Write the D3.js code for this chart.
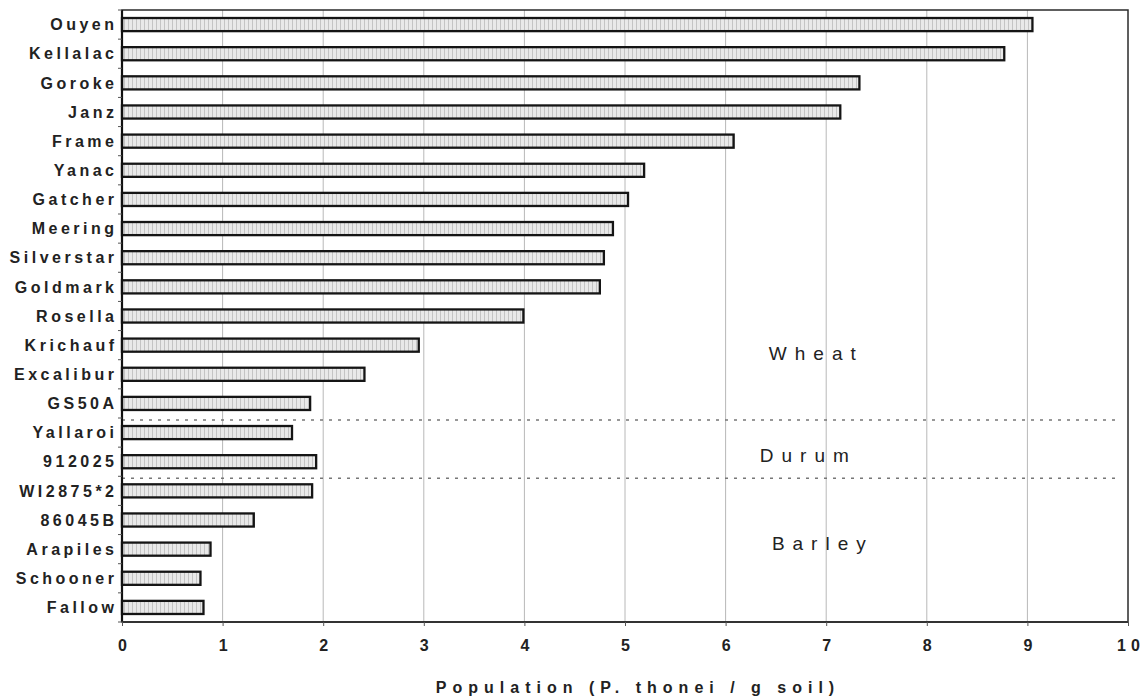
<!DOCTYPE html>
<html>
<head>
<meta charset="utf-8">
<script src="https://cdn.jsdelivr.net/npm/d3@7"></script>
<style>
  body { margin: 0; background: #fff; }
  svg text { font-family: "Liberation Sans", Arial, sans-serif; fill: #222; }
</style>
</head>
<body>
<div id="chart"></div>
<script>
// cultivars, top to bottom
const cultivars = ["Ouyen", "Kellalac", "Goroke", "Janz", "Frame", "Yanac", "Gatcher", "Meering",
  "Silverstar", "Goldmark", "Rosella", "Krichauf", "Excalibur", "GS50A", "Yallaroi", "912025",
  "WI2875*2", "86045B", "Arapiles", "Schooner", "Fallow"];
const population = [9.05, 8.77, 7.33, 7.14, 6.08, 5.19, 5.03, 4.88,
  4.79, 4.75, 3.99, 2.95, 2.41, 1.87, 1.69, 1.93,
  1.89, 1.31, 0.88, 0.78, 0.81];
const xTicks = [0, 1, 2, 3, 4, 5, 6, 7, 8, 9, 10];
const groupNames = ["Wheat", "Durum", "Barley"];
const groupEnds = ["GS50A", "912025"]; // last cultivar of each group (dotted line below)
const xTitle = "Population (P. thonei / g soil)";

const W = 1147, H = 697;
const m = { top: 10, right: 19, bottom: 75, left: 122 };

const svg = d3.select("#chart").append("svg")
  .attr("width", W).attr("height", H);

const x = d3.scaleLinear().domain([0, 10]).range([m.left, W - m.right]);
const y = d3.scaleBand().domain(cultivars).range([m.top, H - m.bottom]).padding(0);
const barH = y.bandwidth() * 0.45;

// hatch for the bar fill
const pat = svg.append("defs").append("pattern")
  .attr("id", "hatch").attr("patternUnits", "userSpaceOnUse")
  .attr("width", 4).attr("height", 4);
pat.append("rect").attr("width", 4).attr("height", 4).attr("fill", "#e9e9e9");
pat.append("line").attr("x1", 0.5).attr("x2", 0.5).attr("y1", 0).attr("y2", 4)
  .attr("stroke", "#c4c4c4").attr("stroke-width", 1);

// vertical gridlines
svg.append("g").selectAll("line")
  .data(xTicks.slice(1, -1)).enter().append("line")
  .attr("x1", d => x(d)).attr("x2", d => x(d))
  .attr("y1", m.top).attr("y2", H - m.bottom)
  .attr("stroke", "#b8b8b8").attr("stroke-width", 1);

// dotted group separators
svg.append("g").selectAll("line")
  .data(groupEnds).enter().append("line")
  .attr("x1", x(0)).attr("x2", x(10) - 10)
  .attr("y1", d => y(d) + y.step() + 2).attr("y2", d => y(d) + y.step() + 2)
  .attr("stroke", "#777").attr("stroke-width", 1.5)
  .attr("stroke-dasharray", "3,6");

// bars
svg.append("g").selectAll("rect")
  .data(cultivars).enter().append("rect")
  .attr("x", x(0))
  .attr("y", d => y(d) + (y.bandwidth() - barH) / 2)
  .attr("width", (d, i) => x(population[i]) - x(0))
  .attr("height", barH)
  .attr("fill", "url(#hatch)")
  .attr("stroke", "#151515").attr("stroke-width", 2.3);

// frame
svg.append("rect")
  .attr("x", x(0)).attr("y", m.top)
  .attr("width", x(10) - x(0)).attr("height", H - m.bottom - m.top)
  .attr("fill", "none").attr("stroke", "#2a2a2a").attr("stroke-width", 1.5);
svg.append("line")
  .attr("x1", x(0)).attr("x2", x(0)).attr("y1", m.top).attr("y2", H - m.bottom)
  .attr("stroke", "#111").attr("stroke-width", 2.2);
svg.append("line")
  .attr("x1", x(0)).attr("x2", x(10)).attr("y1", H - m.bottom).attr("y2", H - m.bottom)
  .attr("stroke", "#333").attr("stroke-width", 2);

// y ticks between categories
const yEdges = cultivars.map(c => y(c)).concat([H - m.bottom]);
svg.append("g").selectAll("line")
  .data(yEdges).enter().append("line")
  .attr("x1", x(0) - 4).attr("x2", x(0))
  .attr("y1", d => d).attr("y2", d => d)
  .attr("stroke", "#555").attr("stroke-width", 1);

// x axis ticks and labels
const xAxis = svg.append("g")
  .attr("transform", `translate(0,${H - m.bottom})`)
  .call(d3.axisBottom(x).tickValues(xTicks).tickSize(4).tickPadding(14).tickFormat(d3.format("d")));
xAxis.select(".domain").remove();
xAxis.selectAll(".tick line").attr("stroke", "#555");
xAxis.selectAll(".tick text")
  .style("font-size", "16px").style("font-weight", "bold")
  .style("font-family", "'Liberation Sans', Arial, sans-serif")
  .style("letter-spacing", "5px").attr("dx", "2.5px").attr("fill", "#222");

// category labels
const ls = 3.5;
svg.append("g").selectAll("text")
  .data(cultivars).enter().append("text")
  .attr("x", x(0) - 8 + ls)
  .attr("y", d => y(d) + y.bandwidth() / 2)
  .attr("dy", "0.36em")
  .attr("text-anchor", "end")
  .style("font-size", "16px").style("font-weight", "bold")
  .style("letter-spacing", ls + "px")
  .text(d => d);

// axis title
svg.append("text")
  .attr("x", (x(0) + x(10)) / 2 + 13)
  .attr("y", H - 4)
  .attr("text-anchor", "middle")
  .style("font-size", "16px").style("font-weight", "bold")
  .style("letter-spacing", "6px")
  .text(xTitle);

// group labels, placed against the cultivar rows
const groupAt = [
  y("Krichauf") + y.bandwidth() / 2 + 8,
  y("912025") + 8,
  y("Arapiles") + y.bandwidth() / 2 - 6
];
const groupX = [6.43, 6.34, 6.46];
svg.append("g").selectAll("text")
  .data(groupNames).enter().append("text")
  .attr("x", (d, i) => x(groupX[i]))
  .attr("y", (d, i) => groupAt[i])
  .attr("dy", "0.35em")
  .style("font-size", "19px")
  .style("letter-spacing", "8px")
  .text(d => d);
</script>
</body>
</html>
